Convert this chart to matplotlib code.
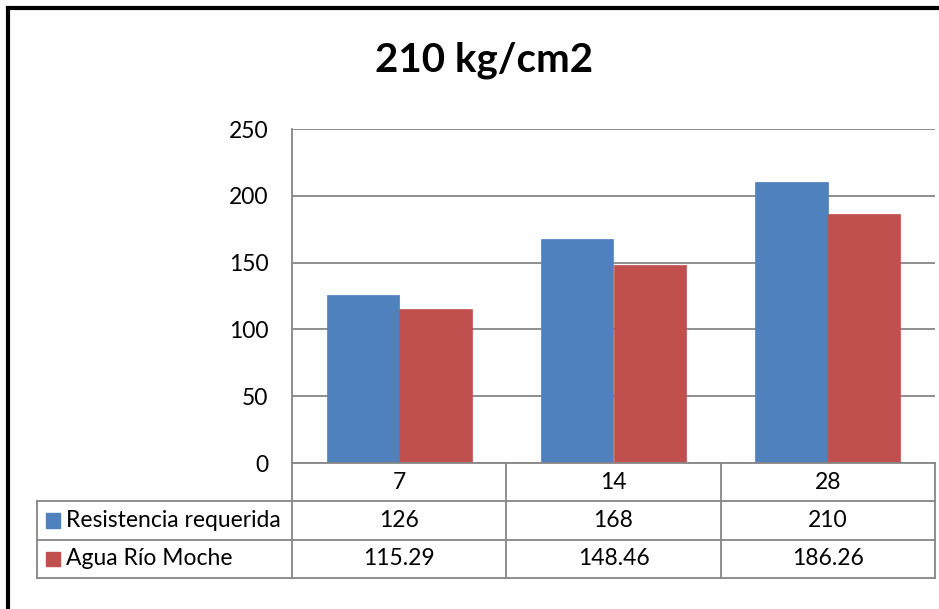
import matplotlib.pyplot as plt
import numpy as np
from matplotlib.patches import Rectangle

plt.rcParams["font.family"] = ["Lato", "DejaVu Sans"]

# data
edades = ["7", "14", "28"]
series = ["Resistencia requerida", "Agua Río Moche"]
resistencia = [126, 168, 210]
agua_moche = [115.29, 148.46, 186.26]
etiquetas_tabla = [["126", "168", "210"], ["115.29", "148.46", "186.26"]]
yticks = [0, 50, 100, 150, 200, 250]

BLUE = "#4F81BD"
RED = "#C0504D"
GRID = "#868686"
FS = 16.5

W, H = 939, 609
fig = plt.figure(figsize=(W / 100, H / 100), dpi=100, facecolor="white")


def px_axes(x0, y0, x1, y1):
    # axes rectangle given in pixel coordinates (top-left origin)
    return fig.add_axes([x0 / W, 1 - y1 / H, (x1 - x0) / W, (y1 - y0) / H])


# ── bar chart ──────────────────────────────────────────────────────────────
ax = px_axes(292, 129, 935, 463)
x = np.arange(len(edades))
bw = 0.338
ax.bar(x - bw / 2, resistencia, bw, color=BLUE, edgecolor=BLUE, lw=0.5, zorder=3)
ax.bar(x + bw / 2, agua_moche, bw, color=RED, edgecolor=RED, lw=0.5, zorder=3)
ax.set_xlim(-0.5, 2.5)
ax.set_ylim(0, 250)
ax.set_yticks(yticks)
ax.set_yticklabels([str(t) for t in yticks], fontsize=FS)
ax.tick_params(axis="y", length=0, pad=17)
ax.set_xticks([])
ax.yaxis.grid(True, color=GRID, lw=1.3, zorder=0)
for s in ["top", "right", "bottom"]:
    ax.spines[s].set_visible(False)
ax.spines["left"].set_color(GRID)
ax.spines["left"].set_linewidth(1.3)

# ── data table under the chart ─────────────────────────────────────────────
px_per_unit = (935 - 292) / 3.0
leg_w = (292 - 37) / px_per_unit
tab = px_axes(37, 463, 935, 578)
tab.set_xlim(-0.5 - leg_w, 2.5)
tab.set_ylim(3, 0)
tab.axis("off")

row_y = [0.0, 1.0, 2.0, 3.0]
# outer edges / horizontal lines
tab.plot([-0.5, 2.5], [0, 0], color=GRID, lw=1.3, clip_on=False)
for yy in row_y[1:]:
    tab.plot([-0.5 - leg_w, 2.5], [yy, yy], color=GRID, lw=1.3, clip_on=False)
tab.plot([-0.5 - leg_w] * 2, [1, 3], color=GRID, lw=1.3, clip_on=False)
for i in range(len(edades) + 1):
    tab.plot([i - 0.5] * 2, [0, 3], color=GRID, lw=1.3, clip_on=False)

for i, e in enumerate(edades):
    tab.text(i, 0.5, e, ha="center", va="center", fontsize=FS)
    for r in range(2):
        tab.text(i, r + 1.5, etiquetas_tabla[r][i], ha="center", va="center",
                 fontsize=FS)

# legend keys in the first column
colores = [BLUE, RED]
key = 14 / px_per_unit
for r, (nombre, c) in enumerate(zip(series, colores)):
    x0 = -0.5 - leg_w + 9 / px_per_unit
    tab.add_patch(Rectangle((x0, r + 1.5 - 0.185), key, 0.37, color=c,
                            clip_on=False))
    tab.text(x0 + key + 6 / px_per_unit, r + 1.5, nombre, ha="left",
             va="center", fontsize=FS)

# ── title and frame ────────────────────────────────────────────────────────
fig.text(484 / W, 1 - 60 / H, "210 kg/cm2", ha="center", va="center",
         fontsize=29, fontweight="bold")
fig.add_artist(Rectangle((7.5 / W, -0.1), 1.2, 1.1 - 8.5 / H,
                         transform=fig.transFigure, fill=False,
                         edgecolor="black", lw=3))

fig.savefig("out.png", dpi=100)
